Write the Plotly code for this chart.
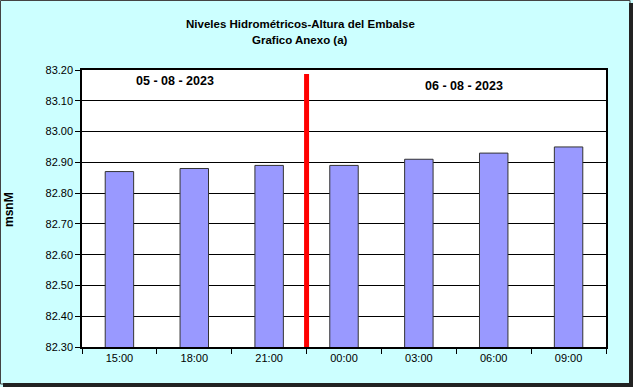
import plotly.graph_objects as go

categories = ["15:00", "18:00", "21:00", "00:00", "03:00", "06:00", "09:00"]
levels = [82.87, 82.88, 82.89, 82.89, 82.91, 82.93, 82.95]
y_ticks = [82.30, 82.40, 82.50, 82.60, 82.70, 82.80, 82.90, 83.00, 83.10, 83.20]
day_labels = ["05 - 08 - 2023", "06 - 08 - 2023"]
day_split = 2.5  # between 21:00 and 00:00

W, H = 633, 387
L, R, T, B = 82, 27, 70, 40
pw, ph = W - L - R, H - T - B

def px_x(p):
    return (p - L) / pw

def px_y(p):
    return (H - B - p) / ph

fig = go.Figure()
fig.add_trace(go.Bar(
    x=categories, y=levels,
    width=0.38,
    marker=dict(color="#9999FF", line=dict(color="#333333", width=1)),
))

font = "Arial, Liberation Sans, sans-serif"
shapes = [
    dict(type="line", xref="x", yref="y", x0=day_split, x1=day_split,
         y0=83.187, y1=82.283, line=dict(color="#FF0000", width=5), layer="above"),
    dict(type="rect", xref="paper", yref="paper",
         x0=px_x(0.5), x1=px_x(W - 3), y0=px_y(H - 3), y1=px_y(0.5),
         line=dict(color="#444444", width=1), layer="below"),
    dict(type="rect", xref="paper", yref="paper",
         x0=px_x(W - 4), x1=px_x(W), y0=px_y(H), y1=px_y(3),
         fillcolor="#222222", line=dict(width=0)),
    dict(type="rect", xref="paper", yref="paper",
         x0=px_x(3), x1=px_x(W), y0=px_y(H), y1=px_y(H - 4),
         fillcolor="#222222", line=dict(width=0)),
]

fig.update_layout(
    width=W, height=H,
    margin=dict(l=L, r=R, t=T, b=B, pad=0),
    paper_bgcolor="#CCFFFF",
    plot_bgcolor="#FFFFFF",
    showlegend=False,
    font=dict(family=font, size=11, color="#000000"),
    xaxis=dict(type="category", showline=True, linecolor="#000000", linewidth=1.5,
               mirror=True, ticks="outside", tickson="boundaries", ticklen=5,
               tickcolor="#000000", showgrid=False, tickfont=dict(size=11),
               range=[-0.5, 6.5]),
    yaxis=dict(range=[82.30, 83.20], tickvals=y_ticks,
               ticktext=[f"{v:.2f}" for v in y_ticks],
               showline=True, linecolor="#000000", linewidth=1.5, mirror=True,
               ticks="outside", ticklen=5, tickcolor="#000000",
               showgrid=True, gridcolor="#000000", gridwidth=1,
               tickfont=dict(size=11), zeroline=False),
    shapes=shapes,
    annotations=[
        dict(text="<b>Niveles Hidrométricos-Altura del Embalse</b>", xref="paper", yref="paper",
             x=px_x(300), y=px_y(24), xanchor="center", yanchor="middle", showarrow=False,
             font=dict(family=font, size=11.5)),
        dict(text="<b>Grafico Anexo (a)</b>", xref="paper", yref="paper",
             x=px_x(300), y=px_y(40), xanchor="center", yanchor="middle", showarrow=False,
             font=dict(family=font, size=11.5)),
        dict(text="<b>msnM</b>", xref="paper", yref="paper", textangle=-90,
             x=px_x(9), y=px_y(210), xanchor="center", yanchor="middle", showarrow=False,
             font=dict(family=font, size=12)),
        dict(text=f"<b>{day_labels[0]}</b>", xref="paper", yref="paper",
             x=px_x(175), y=px_y(80.5), xanchor="center", yanchor="middle", showarrow=False,
             font=dict(family=font, size=12.5)),
        dict(text=f"<b>{day_labels[1]}</b>", xref="paper", yref="paper",
             x=px_x(464), y=px_y(85.5), xanchor="center", yanchor="middle", showarrow=False,
             font=dict(family=font, size=12.5)),
    ],
)

fig.write_html("out.html")
